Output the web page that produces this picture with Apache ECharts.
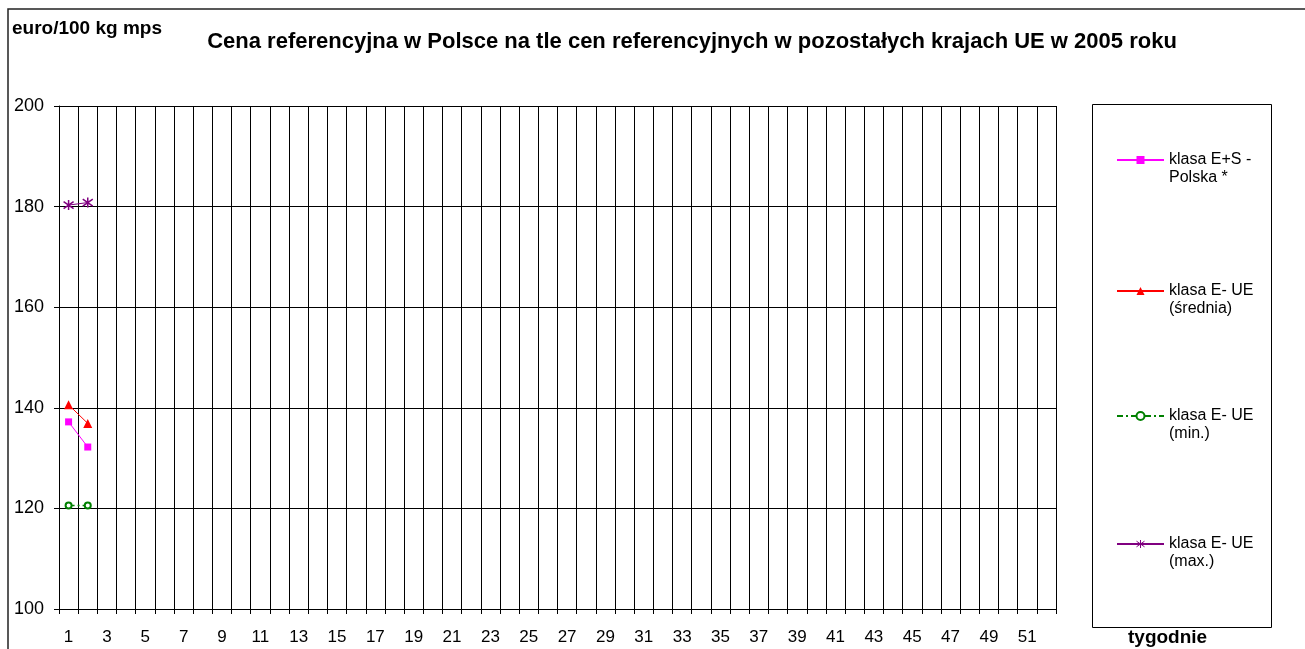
<!DOCTYPE html>
<html><head><meta charset="utf-8">
<script src="https://cdn.jsdelivr.net/npm/echarts@6/dist/echarts.min.js"></script>
<style>html,body{margin:0;padding:0;background:#fff}#c{width:1305px;height:649px}</style>
</head><body><div id="c"></div>
<script>
const weeks = Array.from({length:52},(_,i)=>String(i+1));
const polska = [137.2, 132.2];
const ueAvg = [140.6, 136.9];
const ueMin = [120.6, 120.6];
const ueMax = [180.3, 180.8];
const names = ['klasa E+S -\nPolska *','klasa E- UE\n(średnia)','klasa E- UE\n(min.)','klasa E- UE\n(max.)'];
const yMin = 100, yMax = 200, yStep = 20;
const FONT = 'Liberation Sans, Arial, sans-serif';
const star = 'path://M5,0L5,10M1,1.5L9,8.5M9,1.5L1,8.5';

const chart = echarts.init(document.getElementById('c'));
const legendIconY = [159, 290, 415, 543];
function mkLegend(i){
  return {
    data:[i===3 ? {name:names[i], itemStyle:{borderColor:'#800080', borderWidth:1}} : names[i]],
    orient:'vertical', left:1116, top:legendIconY[i]-26, padding:0,
    itemWidth:47, itemHeight:10, itemGap:0,
    formatter: n => '\n' + n,
    textStyle:{fontFamily:FONT, fontSize:16, color:'#000', lineHeight:18}
  };
}
chart.setOption({
  animation:false,
  textStyle:{fontFamily:FONT},
  title:{text:'Cena referencyjna w Polsce na tle cen referencyjnych w pozostałych krajach UE w 2005 roku',
    left:687, textAlign:'center', top:26,
    textStyle:{fontFamily:FONT, fontSize:22, fontWeight:'bold', color:'#000'}},
  legend:[0,1,2,3].map(mkLegend),
  grid:{left:59, right:249, top:106, bottom:40},
  xAxis:{type:'category', data:weeks, boundaryGap:true,
    axisLine:{lineStyle:{color:'#000', width:1}},
    axisTick:{show:true, interval:0, length:5, lineStyle:{color:'#000'}},
    axisLabel:{interval:1, fontFamily:FONT, fontSize:17, color:'#000', margin:20},
    splitLine:{show:true, interval:0, lineStyle:{color:'#000', width:1}}},
  yAxis:{type:'value', min:yMin, max:yMax, interval:yStep,
    axisLine:{show:true, lineStyle:{color:'#000'}},
    axisTick:{show:true, length:5, lineStyle:{color:'#000'}},
    axisLabel:{fontFamily:FONT, fontSize:18, color:'#000', margin:15},
    splitLine:{show:true, lineStyle:{color:'#000', width:1}}},
  graphic:[
    {type:'polyline', shape:{points:[[8,649],[8,9],[1305,9]]}, style:{stroke:'#222', lineWidth:1.5, fill:null}},
    {type:'rect', shape:{x:1092.5, y:104.5, width:179, height:523}, style:{stroke:'#000', lineWidth:1, fill:null}, z:-1},
    {type:'text', left:12, top:19, style:{text:'euro/100 kg mps', font:'bold 19px '+FONT, fill:'#000'}},
    {type:'text', left:1128, top:628, style:{text:'tygodnie', font:'bold 19px '+FONT, fill:'#000'}}
  ],
  series:[
    {name:names[0], type:'line', data:polska, symbol:'rect', symbolSize:7,
      lineStyle:{color:'#ff00ff', width:1}, itemStyle:{color:'#ff00ff'}},
    {name:names[1], type:'line', data:ueAvg, symbol:'triangle', symbolSize:9,
      lineStyle:{color:'#ff0000', width:1}, itemStyle:{color:'#ff0000'}},
    {name:names[2], type:'line', data:ueMin, symbol:'emptyCircle', symbolSize:6,
      lineStyle:{color:'#008000', width:1.5, type:[6,3,2,3]}, itemStyle:{color:'#008000', borderWidth:1}},
    {name:names[3], type:'line', data:ueMax, symbol:star, symbolSize:10,
      lineStyle:{color:'#800080', width:1}, itemStyle:{color:'#800080', borderColor:'#800080', borderWidth:1.5}}
  ]
});
</script></body></html>
